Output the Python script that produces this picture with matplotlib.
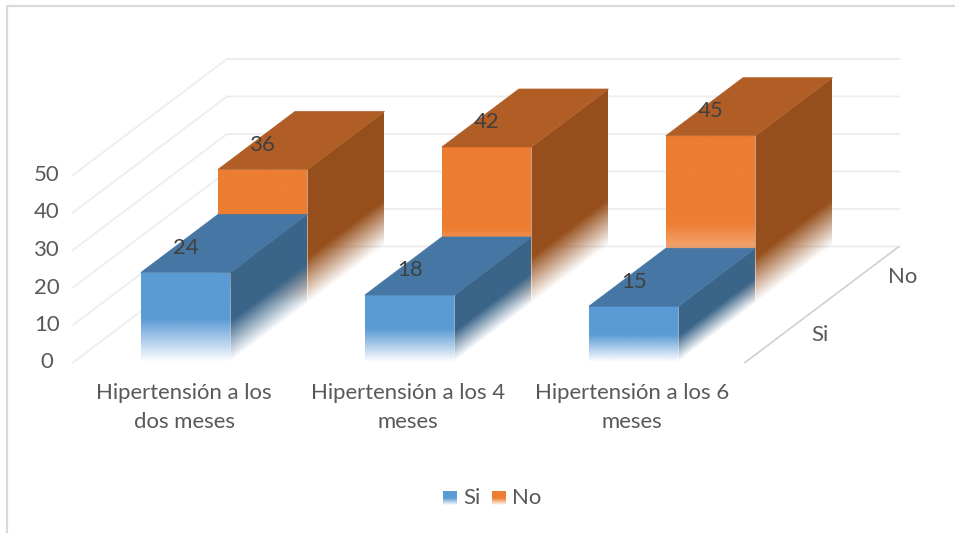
import matplotlib
matplotlib.use("Agg")
import matplotlib.pyplot as plt
import numpy as np
from matplotlib.colors import to_rgb
from matplotlib.patches import Polygon
from matplotlib.transforms import Affine2D

categorias = ["Hipertensión a los\ndos meses", "Hipertensión a los 4\nmeses", "Hipertensión a los 6\nmeses"]
si_values = [24, 18, 15]
no_values = [36, 42, 45]
series_names = ["Si", "No"]
y_ticks = [0, 10, 20, 30, 40, 50]

plt.rcParams["font.family"] = ["Lato", "DejaVu Sans"]

# oblique projection of the 3d box: (category, row, value) -> pixels
X0, Y0 = 73.0, 362.5
CAT_W = 224.0
ROW_DX, ROW_DY = 77.0, -58.0
UNIT = 3.75
BAR_W = 0.4
FS = 15.9

FRONT = {"Si": "#5B9BD5", "No": "#ED7D31"}
TOP = {"Si": "#4676A3", "No": "#B05E25"}
SIDE = {"Si": "#3A6589", "No": "#964F1C"}
GRID = "#EEEEEE"
AXIS = "#D0D0D0"
TICK = "#595959"
LABEL = "#404040"


def project(cat, row, value):
    return (X0 + cat * CAT_W + row * ROW_DX,
            Y0 + row * ROW_DY - value * UNIT)


def fade_image(color, fade, n=200):
    # solid colour on top, transparent towards the base
    rgba = np.ones((n, 1, 4))
    rgba[:, :, :3] = to_rgb(color)
    rgba[:, 0, 3] = np.clip(np.linspace(0, 1, n) / fade, 0, 1)
    return rgba


def draw_face(ax, p0, pu, pv, color, fade, z):
    # parallelogram p0-pu-(pu+pv-p0)-pv filled by a vertical fade
    p0, pu, pv = map(np.array, (p0, pu, pv))
    corners = [p0, pu, pu + pv - p0, pv]
    clip = Polygon(corners, closed=True, transform=ax.transData, fc="none", ec="none")
    ax.add_patch(clip)
    a, b = pu - p0, pv - p0
    mat = np.array([[a[0], b[0], p0[0]], [a[1], b[1], p0[1]], [0, 0, 1]])
    im = ax.imshow(fade_image(color, fade), extent=(0, 1, 0, 1), origin="lower",
                   aspect="auto", interpolation="bilinear",
                   transform=Affine2D(mat) + ax.transData, zorder=z)
    im.set_clip_path(clip)


def draw_bar(ax, cat, row, value, name, z):
    left = cat + 0.303
    right = left + BAR_W
    height = value * UNIT
    # top face
    ax.add_patch(Polygon([project(left, row, value), project(right, row, value),
                          project(right, row + 1, value), project(left, row + 1, value)],
                         closed=True, fc=TOP[name], ec=TOP[name], lw=0.5, zorder=z + 0.2))
    # right side face
    draw_face(ax, project(right, row, 0), project(right, row + 1, 0), project(right, row, value),
              SIDE[name], min(0.45 * height, 46) / height, z)
    # front face
    draw_face(ax, project(left, row, 0), project(right, row, 0), project(left, row, value),
              FRONT[name], 0.48, z + 0.1)
    fx, fy = project(left + BAR_W / 2, row, value)
    ax.text(fx, fy - 24.5, str(value), ha="center", va="center", fontsize=FS,
            color=LABEL, zorder=20)


fig = plt.figure(figsize=(9.55, 5.33), dpi=100)
ax = fig.add_axes([0, 0, 1, 1])
ax.set_xlim(0, 955)
ax.set_ylim(533, 0)
ax.axis("off")

# outer chart border, only top and left show
ax.plot([6.5, 6.5, 955], [533, 6, 6], color="#D9D9D9", lw=1.6, zorder=1)

# wall gridlines
n_cat = len(categorias)
for v in y_ticks:
    x_a, y_a = project(0, 0, v)
    x_b, y_b = project(0, 2, v)
    x_c, y_c = project(n_cat, 2, v)
    ax.plot([x_a, x_b, x_c], [y_a, y_b, y_c], color=GRID, lw=1.4, zorder=1,
            solid_joinstyle="miter")
    ax.text(47, y_a, str(v), ha="center", va="center", fontsize=FS, color=TICK)

# depth axis line on the floor
x_a, y_a = project(n_cat, 0, 0)
x_b, y_b = project(n_cat, 2, 0)
ax.plot([x_a, x_b], [y_a, y_b], color=AXIS, lw=1.2, zorder=1)
ax.text(820, 335, series_names[0], ha="center", va="center", fontsize=FS, color=TICK)
ax.text(903, 277, series_names[1], ha="center", va="center", fontsize=FS, color=TICK)

# back row first so the front row covers it
for i in range(n_cat):
    draw_bar(ax, i, 1, no_values[i], "No", 3)
for i in range(n_cat):
    draw_bar(ax, i, 0, si_values[i], "Si", 5)

# category labels
for i, lab in enumerate(categorias):
    ax.text(X0 + (i + 0.5) * CAT_W - 1, 407.5, lab, ha="center", va="center", fontsize=FS,
            color=TICK, linespacing=1.52)

# legend
for name, sx, tx in [("Si", 443, 463), ("No", 492, 512)]:
    draw_face(ax, (sx, 505), (sx + 14, 505), (sx, 491), FRONT[name], 0.5, 6)
    ax.text(tx, 498, name, ha="left", va="center", fontsize=FS, color=TICK)

ax.set_xlim(0, 955)
ax.set_ylim(533, 0)
fig.savefig("out.png", dpi=100)
